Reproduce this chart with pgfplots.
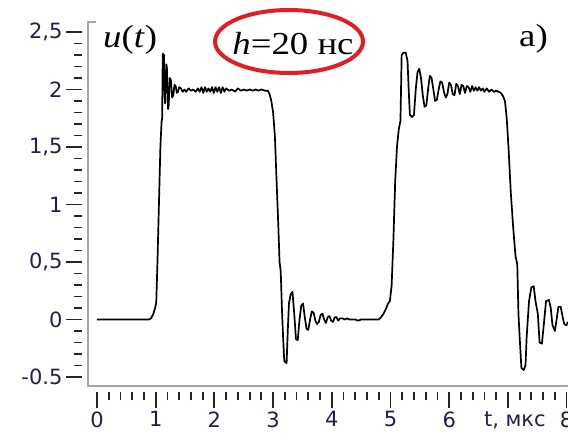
\documentclass[border=0pt]{standalone}
\usepackage{pgfplots}
\pgfplotsset{compat=1.18}
\usepackage{fontspec}
\setmainfont{Liberation Serif}
\newfontfamily\ticksf{DejaVu Sans}
\definecolor{ticknavy}{RGB}{35,30,75}
\definecolor{axgray}{RGB}{165,165,172}
\definecolor{ovalred}{RGB}{225,30,35}

\pgfplotstableread{
t u
0.00 0.00
0.88 0.00
0.92 0.01
0.96 0.05
0.99 0.10
1.01 0.15
1.03 0.50
1.06 1.10
1.08 1.50
1.10 1.72
1.11 1.75
1.12 2.31
1.14 2.30
1.15 1.95
1.16 1.88
1.18 2.22
1.19 2.20
1.21 1.83
1.22 1.85
1.24 2.10
1.26 2.08
1.28 1.93
1.30 1.95
1.32 2.04
1.34 2.03
1.36 1.97
1.38 1.98
1.40 2.02
1.43 2.01
1.46 1.98
1.49 2.00
1.52 1.98
1.56 2.01
1.60 1.99
1.64 2.00
1.68 1.98
1.72 2.01
1.75 1.98
1.78 2.02
1.81 1.97
1.84 2.02
1.87 1.98
1.90 2.01
1.93 1.98
1.96 2.02
1.99 1.97
2.02 2.02
2.05 1.98
2.08 2.02
2.11 1.97
2.14 2.02
2.17 1.98
2.20 2.01
2.25 1.99
2.30 2.00
2.35 1.98
2.40 2.01
2.45 1.99
2.50 2.00
2.55 1.99
2.60 2.00
2.65 1.99
2.70 2.00
2.75 1.99
2.80 2.00
2.86 1.99
2.91 1.99
2.94 1.96
2.97 1.90
3.00 1.80
3.03 1.60
3.06 1.20
3.09 0.80
3.11 0.50
3.13 0.42
3.15 0.10
3.17 -0.15
3.19 -0.36
3.23 -0.38
3.25 -0.10
3.27 0.14
3.30 0.22
3.33 0.24
3.36 0.05
3.39 -0.17
3.42 -0.18
3.45 0.00
3.48 0.12
3.51 0.14
3.54 0.02
3.57 -0.08
3.60 -0.09
3.63 0.00
3.66 0.07
3.69 0.06
3.72 -0.01
3.75 -0.04
3.78 -0.02
3.81 0.04
3.84 0.05
3.87 0.00
3.90 -0.03
3.93 0.02
3.96 0.03
3.99 -0.01
4.02 -0.02
4.05 0.02
4.08 0.02
4.11 -0.01
4.14 0.01
4.18 0.01
4.22 0.00
4.26 0.01
4.30 0.00
4.40 0.00
4.45 -0.01
4.50 0.00
4.80 0.00
4.84 0.02
4.88 0.05
4.92 0.09
4.96 0.14
4.99 0.16
5.02 0.30
5.05 0.70
5.08 1.20
5.11 1.50
5.14 1.65
5.17 1.73
5.19 2.30
5.22 2.32
5.26 2.32
5.29 2.25
5.31 2.00
5.33 1.78
5.37 1.76
5.40 1.78
5.43 2.00
5.46 2.15
5.49 2.18
5.52 2.10
5.55 1.95
5.58 1.85
5.61 1.86
5.64 2.00
5.67 2.12
5.70 2.10
5.73 2.00
5.76 1.90
5.79 1.91
5.82 2.00
5.85 2.07
5.88 2.06
5.91 1.98
5.94 1.93
5.97 1.96
6.00 2.06
6.03 2.04
6.06 1.96
6.09 1.95
6.12 2.05
6.15 2.03
6.18 1.96
6.21 2.04
6.24 2.03
6.27 1.97
6.30 2.03
6.33 2.02
6.36 1.98
6.39 2.03
6.42 1.99
6.45 2.02
6.48 1.99
6.51 2.02
6.54 1.99
6.57 2.01
6.60 1.98
6.64 2.01
6.68 1.98
6.72 2.00
6.76 1.98
6.80 1.99
6.84 1.98
6.88 1.97
6.92 1.94
6.95 1.90
6.98 1.75
7.01 1.50
7.05 1.10
7.09 0.80
7.13 0.55
7.16 0.48
7.18 0.05
7.20 -0.15
7.23 -0.42
7.27 -0.44
7.30 -0.40
7.32 -0.15
7.36 0.16
7.40 0.28
7.44 0.29
7.47 0.16
7.51 0.05
7.54 -0.20
7.58 -0.21
7.62 0.00
7.65 0.16
7.70 0.17
7.73 0.10
7.76 -0.05
7.80 -0.10
7.83 0.00
7.86 0.11
7.90 0.11
7.93 0.03
7.96 -0.04
8.00 -0.05
8.02 -0.02
}\signal

\begin{document}
\begin{tikzpicture}[x=1pt,y=1pt]
\begin{axis}[
  at={(0,0)}, anchor=south west,
  scale only axis, width=486pt, height=370pt,
  xmin=-0.2555, xmax=8.024, ymin=-0.6304, ymax=2.587,
  axis x line*=bottom, axis y line*=left,
  axis line style={draw=none},
  tick align=outside,
  xtick={0,...,8},
  xticklabels={0,1,2,3,4,5,6,{\hspace{14pt}t, мкс},8},
  ytick={-0.5,0,0.5,1,1.5,2,2.5},
  yticklabels={-0.5,0,{0,5},1,{1,5},2,{2,5}},
  minor x tick num=4, minor y tick num=4,
  major tick length=16pt, minor tick length=8pt,
  every tick/.style={draw=black!85, line width=1.8pt},
  tick label style={font=\ticksf\fontsize{21}{21}\selectfont, text=ticknavy},
  clip mode=individual,
]
\addplot[black, line width=1.7pt, line join=round] table[x=t, y=u] {\signal};
% axis frame: left and bottom lines with a short cap at the top
\draw[axgray, line width=2pt]
  ([xshift=8pt]axis cs:-0.153,2.587) -- (axis cs:-0.153,2.587)
  -- (axis cs:-0.153,-0.578) -- (axis cs:8.024,-0.578);
\end{axis}

\draw[ovalred, line width=4pt] (207,350.5) ellipse [x radius=74pt, y radius=31.5pt];
\node[anchor=base, inner sep=0pt, xscale=1.15] at (211,337)
  {\fontsize{32}{32}\selectfont\textit{h}=20 нс};
\node[anchor=base west, inner sep=0pt, xscale=1.15] at (21,344.5)
  {\fontsize{32}{32}\selectfont\textit{u}(\textit{t})};
\node[anchor=base west, inner sep=0pt, xscale=1.15] at (437,345)
  {\fontsize{32}{32}\selectfont a)};

\pgfresetboundingbox
\useasboundingbox (-82,-47) rectangle (486,392);
\end{tikzpicture}
\end{document}
